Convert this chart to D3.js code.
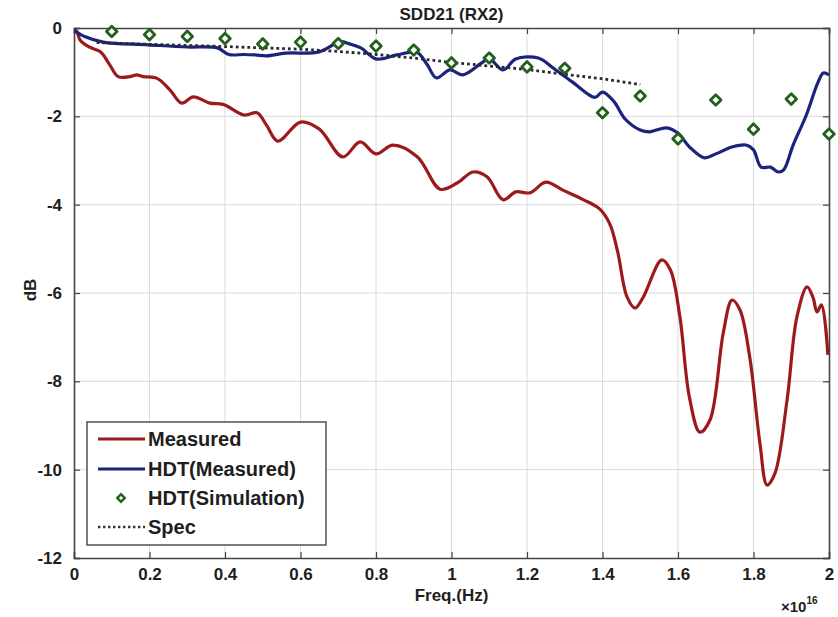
<!DOCTYPE html>
<html>
<head>
<meta charset="utf-8">
<script src="https://cdn.jsdelivr.net/npm/d3@7"></script>
<style>
  html, body { margin: 0; padding: 0; background: #fff; }
  svg { display: block; font-family: "Liberation Sans", Arial, sans-serif; }
</style>
</head>
<body>
<svg id="chart" width="838" height="617"></svg>
<script>
// Axis ticks
const freqTicks = [0, 0.2, 0.4, 0.6, 0.8, 1, 1.2, 1.4, 1.6, 1.8, 2];
const dbTicks = [0, -2, -4, -6, -8, -10, -12];

// Measured (raw channel)
const measuredFreq = [0, 0.008, 0.016, 0.04, 0.07, 0.095, 0.117, 0.148, 0.166, 0.183, 0.22, 0.254, 0.285, 0.316, 0.36, 0.395, 0.45, 0.485, 0.51, 0.54, 0.6, 0.65, 0.712, 0.758, 0.8, 0.845, 0.91, 0.97, 1.015, 1.057, 1.094, 1.137, 1.17, 1.208, 1.25, 1.295, 1.35, 1.393, 1.42, 1.44, 1.465, 1.486, 1.507, 1.557, 1.58, 1.605, 1.63, 1.658, 1.685, 1.72, 1.743, 1.764, 1.79, 1.817, 1.836, 1.857, 1.889, 1.915, 1.942, 1.958, 1.968, 1.98, 1.997];
const measuredDb = [-0.02, -0.09, -0.27, -0.43, -0.54, -0.84, -1.1, -1.1, -1.06, -1.1, -1.14, -1.4, -1.7, -1.56, -1.7, -1.73, -1.97, -1.92, -2.2, -2.56, -2.13, -2.29, -2.92, -2.58, -2.85, -2.65, -2.92, -3.65, -3.51, -3.26, -3.37, -3.89, -3.71, -3.73, -3.49, -3.67, -3.89, -4.1, -4.45, -5.06, -6.09, -6.34, -6.11, -5.25, -5.48, -6.54, -8.35, -9.15, -8.87, -6.9, -6.16, -6.38, -7.45, -9.4, -10.35, -10.08, -8.42, -6.54, -5.86, -6.11, -6.43, -6.27, -7.4];

// HDT (Measured)
const hdtMeasFreq = [0, 0.03, 0.077, 0.196, 0.3, 0.38, 0.41, 0.45, 0.48, 0.51, 0.56, 0.65, 0.705, 0.73, 0.76, 0.8, 0.855, 0.908, 0.935, 0.96, 0.996, 1.03, 1.08, 1.1, 1.137, 1.17, 1.23, 1.27, 1.32, 1.38, 1.4, 1.43, 1.46, 1.5, 1.525, 1.57, 1.6, 1.63, 1.67, 1.7, 1.745, 1.78, 1.8, 1.82, 1.845, 1.866, 1.88, 1.905, 1.94, 1.97, 1.985, 2.0];
const hdtMeasDb = [-0.05, -0.2, -0.32, -0.38, -0.43, -0.45, -0.6, -0.6, -0.61, -0.63, -0.57, -0.54, -0.31, -0.36, -0.45, -0.7, -0.61, -0.55, -0.82, -1.13, -0.95, -1.06, -0.79, -0.7, -0.95, -0.7, -0.68, -0.91, -1.22, -1.57, -1.45, -1.66, -2.06, -2.31, -2.35, -2.26, -2.38, -2.69, -2.94, -2.85, -2.69, -2.65, -2.76, -3.15, -3.15, -3.26, -3.21, -2.65, -1.97, -1.25, -1.02, -1.06];

// HDT (Simulation)
const simFreq = [0.1, 0.2, 0.3, 0.4, 0.5, 0.6, 0.7, 0.8, 0.9, 1.0, 1.1, 1.2, 1.3, 1.4, 1.5, 1.6, 1.7, 1.8, 1.9, 2.0];
const simDb = [-0.08, -0.15, -0.19, -0.24, -0.36, -0.32, -0.35, -0.41, -0.5, -0.79, -0.68, -0.88, -0.91, -1.92, -1.54, -2.51, -1.63, -2.29, -1.61, -2.4];

// Spec limit
const specFreq = [0.06, 0.2, 0.4, 0.6, 0.7, 0.8, 0.9, 1.0, 1.1, 1.2, 1.3, 1.4, 1.5];
const specDb = [-0.33, -0.37, -0.42, -0.48, -0.53, -0.6, -0.68, -0.78, -0.86, -0.94, -1.05, -1.15, -1.28];

const W = 838, H = 617;
const margin = { top: 28, right: 9, bottom: 59, left: 74 };
const svg = d3.select("#chart");

const x = d3.scaleLinear().domain([0, 2]).range([margin.left, W - margin.right]);
const y = d3.scaleLinear().domain([-12, 0]).range([H - margin.bottom, margin.top]);

const axisColor = "#454545";
const gridColor = "#dadada";
const textColor = "#1e1e1e";
const FONT = "Liberation Sans, Arial, sans-serif";

// Grid
const grid = svg.append("g");
grid.selectAll("line.vx").data(freqTicks.slice(1, -1)).join("line")
  .attr("x1", d => x(d)).attr("x2", d => x(d))
  .attr("y1", y(0)).attr("y2", y(-12))
  .attr("stroke", gridColor).attr("stroke-width", 1);
grid.selectAll("line.hy").data(dbTicks.slice(1, -1)).join("line")
  .attr("y1", d => y(d)).attr("y2", d => y(d))
  .attr("x1", x(0)).attr("x2", x(2))
  .attr("stroke", gridColor).attr("stroke-width", 1);

// Axes: ticks point inward and are mirrored on the top and right edges
const fmtX = d => d3.format("~g")(d);
const fmtY = d => String(d); // plain hyphen-minus
const xBottom = svg.append("g").attr("transform", `translate(0,${y(-12)})`)
  .call(d3.axisBottom(x).tickValues(freqTicks).tickSize(-6).tickPadding(12).tickFormat(fmtX));
const xTop = svg.append("g").attr("transform", `translate(0,${y(0)})`)
  .call(d3.axisTop(x).tickValues(freqTicks).tickSize(-6).tickFormat(""));
const yLeft = svg.append("g").attr("transform", `translate(${x(0)},0)`)
  .call(d3.axisLeft(y).tickValues(dbTicks).tickSize(-6).tickPadding(12).tickFormat(fmtY));
const yRight = svg.append("g").attr("transform", `translate(${x(2)},0)`)
  .call(d3.axisRight(y).tickValues(dbTicks).tickSize(-6).tickFormat(""));

[xBottom, xTop, yLeft, yRight].forEach(g => {
  g.select(".domain").attr("stroke", axisColor).attr("stroke-width", 1.6);
  g.selectAll(".tick line").attr("stroke", axisColor).attr("stroke-width", 1.2);
  g.selectAll(".tick text")
    .attr("fill", textColor)
    .attr("font-size", 17)
    .attr("font-weight", "bold")
    .attr("font-family", FONT);
});
xBottom.selectAll(".tick text").attr("dy", "0.6em");

// Series
const line = d3.line().x(d => x(d[0])).y(d => y(d[1])).curve(d3.curveCatmullRom.alpha(0.5));
svg.append("clipPath").attr("id", "plotclip").append("rect")
  .attr("x", x(0)).attr("y", y(0) - 4).attr("width", x(2) - x(0)).attr("height", y(-12) - y(0) + 4);

const plot = svg.append("g").attr("clip-path", "url(#plotclip)");

plot.append("path")
  .datum(d3.zip(measuredFreq, measuredDb))
  .attr("d", line)
  .attr("fill", "none").attr("stroke", "#9c1a1c").attr("stroke-width", 3.2)
  .attr("stroke-linejoin", "round");

plot.append("path")
  .datum(d3.zip(hdtMeasFreq, hdtMeasDb))
  .attr("d", line)
  .attr("fill", "none").attr("stroke", "#1b237d").attr("stroke-width", 3.2)
  .attr("stroke-linejoin", "round");

plot.append("path")
  .datum(d3.zip(specFreq, specDb))
  .attr("d", d3.line().x(d => x(d[0])).y(d => y(d[1])))
  .attr("fill", "none").attr("stroke", "#2a2a2a").attr("stroke-width", 2.8)
  .attr("stroke-dasharray", "2.8,3");

// Simulation markers: small square diamonds
const diamond = d3.symbol().type(d3.symbolSquare).size(56);
svg.append("g").selectAll("path")
  .data(d3.zip(simFreq, simDb))
  .join("path")
  .attr("d", diamond)
  .attr("transform", d => `translate(${x(d[0])},${y(d[1])}) rotate(45)`)
  .attr("fill", "#fff").attr("stroke", "#22601c").attr("stroke-width", 2.8)
  .attr("stroke-linejoin", "round");

// Titles
svg.append("text").attr("x", (x(0) + x(2)) / 2).attr("y", 20)
  .attr("text-anchor", "middle").attr("font-size", 17).attr("font-weight", "bold")
  .attr("fill", textColor).text("SDD21 (RX2)");
svg.append("text").attr("x", (x(0) + x(2)) / 2).attr("y", 601)
  .attr("text-anchor", "middle").attr("font-size", 17).attr("font-weight", "bold")
  .attr("fill", textColor).text("Freq.(Hz)");
svg.append("text").attr("transform", "translate(36,290) rotate(-90)")
  .attr("text-anchor", "middle").attr("font-size", 17).attr("font-weight", "bold")
  .attr("fill", textColor).text("dB");
const expo = svg.append("text").attr("x", 781).attr("y", 612)
  .attr("font-size", 15).attr("font-weight", "bold").attr("fill", textColor);
expo.append("tspan").text("×10");
expo.append("tspan").attr("dy", -8).attr("font-size", 10).text("16");

// Legend
const legend = svg.append("g");
legend.append("rect").attr("x", 87).attr("y", 422).attr("width", 239).attr("height", 123)
  .attr("fill", "#fff").attr("stroke", axisColor).attr("stroke-width", 1.4);
const entries = [
  { label: "Measured", kind: "line", color: "#9c1a1c" },
  { label: "HDT(Measured)", kind: "line", color: "#1b237d" },
  { label: "HDT(Simulation)", kind: "marker", color: "#22601c" },
  { label: "Spec", kind: "dash", color: "#333" }
];
const rowY = [439, 469, 498, 527];
entries.forEach((e, i) => {
  const yy = rowY[i];
  if (e.kind === "line") {
    legend.append("line").attr("x1", 98).attr("x2", 145).attr("y1", yy).attr("y2", yy)
      .attr("stroke", e.color).attr("stroke-width", 3.2);
  } else if (e.kind === "dash") {
    legend.append("line").attr("x1", 98).attr("x2", 145).attr("y1", yy).attr("y2", yy)
      .attr("stroke", e.color).attr("stroke-width", 2.4).attr("stroke-dasharray", "2.4,2.6");
  } else {
    legend.append("path").attr("d", d3.symbol().type(d3.symbolSquare).size(28)())
      .attr("transform", `translate(121,${yy}) rotate(45)`)
      .attr("fill", "#fff").attr("stroke", e.color).attr("stroke-width", 2.4);
  }
  legend.append("text").attr("x", 148).attr("y", yy + 7)
    .attr("font-size", 20).attr("font-weight", "bold").attr("fill", textColor)
    .text(e.label);
});
</script>
</body>
</html>
